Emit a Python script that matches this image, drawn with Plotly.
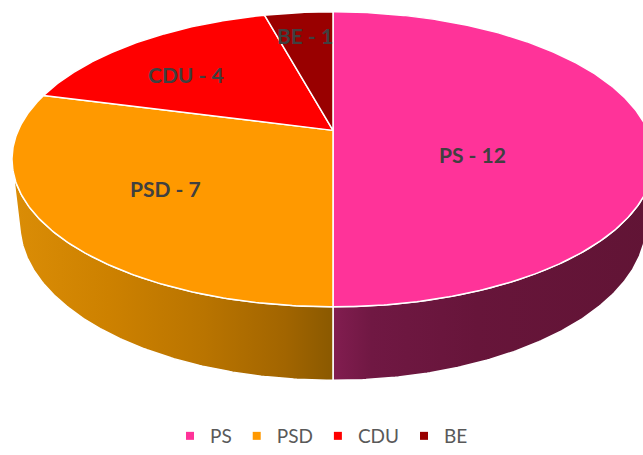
import numpy as np
import plotly.graph_objects as go

# ---- data ----
parties = ["PS", "PSD", "CDU", "BE"]
seats = [12, 7, 4, 1]
colors = ["#FF3399", "#FF9900", "#FF0000", "#990000"]

# side-wall gradients (left -> right)
wall_scales = {
    "PS": [[0, "#821d50"], [0.12, "#701843"], [0.45, "#67153a"], [1, "#611435"]],
    "PSD": [[0, "#db8d06"], [0.3, "#cd8100"], [0.6, "#b97400"], [0.85, "#a26500"], [1, "#8a5900"]],
    "CDU": [[0, "#b00000"], [1, "#800000"]],
    "BE": [[0, "#6a0000"], [1, "#500000"]],
}

# ---- perspective camera (pixel space) ----
W, H = 643, 455
CX, CY = 333.0, 133.0
PHI = np.arcsin(0.4597)
C, S = np.cos(PHI), np.sin(PHI)
D = 4.530
F = 1426.0
T = 0.2378  # thickness


def proj(X, Y, Z):
    X, Y, Z = np.asarray(X, float), np.asarray(Y, float), np.asarray(Z, float)
    depth = Y * C - Z * S + D
    w = Y * S + Z * C
    return CX + F * X / depth, CY - F * w / depth


def arc(a0, a1, r=1.0, z=0.0, n=None):
    if n is None:
        n = max(int(abs(a1 - a0) * 2) + 2, 3)
    th = np.radians(np.linspace(a0, a1, n))
    X = r * np.sin(th)
    Y = r * np.cos(th)
    return proj(X, Y, np.full_like(X, z))


total = sum(seats)
bounds = np.concatenate([[0], np.cumsum(seats)]) / total * 360.0

# silhouette of the cylinder
theta_sil = np.degrees(np.arccos(-1.0 / (D * C)))
vis_lo, vis_hi = theta_sil, 360 - theta_sil

fig = go.Figure()

# side walls
for i, p in enumerate(parties):
    a0, a1 = bounds[i], bounds[i + 1]
    lo, hi = max(a0, vis_lo), min(a1, vis_hi)
    if hi <= lo:
        continue
    xt, yt = arc(lo, hi, z=0.0)
    xb, yb = arc(hi, lo, z=-T)
    xs = np.concatenate([xt, xb, xt[:1]])
    ys = np.concatenate([yt, yb, yt[:1]])
    fig.add_trace(go.Scatter(
        x=xs, y=ys, mode="lines", fill="toself",
        fillgradient=dict(type="horizontal", colorscale=wall_scales[p]),
        line=dict(color="white", width=1.5),
        hoverinfo="skip", showlegend=False))

# top faces
cx0, cy0 = proj(0, 0, 0)
for i, p in enumerate(parties):
    a0, a1 = bounds[i], bounds[i + 1]
    xa, ya = arc(a0, a1)
    xs = np.concatenate([[cx0], xa, [cx0]])
    ys = np.concatenate([[cy0], ya, [cy0]])
    fig.add_trace(go.Scatter(
        x=xs, y=ys, mode="lines", fill="toself", fillcolor=colors[i],
        line=dict(color="white", width=1.5),
        hoverinfo="skip", showlegend=False))

# data labels
label_r = [0.46, 0.62, 0.66, 0.78]
label_shift = [21, 0, -5, 0]
for i, p in enumerate(parties):
    mid = (bounds[i] + bounds[i + 1]) / 2 + label_shift[i]
    th = np.radians(mid)
    lx, ly = proj(label_r[i] * np.sin(th), label_r[i] * np.cos(th), 0.0)
    fig.add_annotation(
        x=float(lx), y=float(ly), xref="x", yref="y",
        text=f"<b>{p} - {seats[i]}</b>", showarrow=False,
        font=dict(family="Lato, Open Sans, sans-serif", size=21, color="#404040"))

# legend entries
for i, p in enumerate(parties):
    fig.add_trace(go.Scatter(
        x=[None], y=[None], mode="markers", name=p,
        marker=dict(symbol="square", size=8, color=colors[i])))

fig.update_layout(
    width=W, height=H, autosize=False,
    margin=dict(l=0, r=0, t=0, b=0),
    paper_bgcolor="white", plot_bgcolor="white",
    xaxis=dict(range=[0, W], visible=False, fixedrange=True),
    yaxis=dict(range=[H, 0], visible=False, fixedrange=True),
    showlegend=True,
    legend=dict(orientation="h", x=0.5, xanchor="center", y=0.022, yanchor="middle",
                font=dict(family="Lato, Open Sans, sans-serif", size=19, color="#595959"),
                itemwidth=30, bgcolor="rgba(0,0,0,0)"),
)

fig.write_html("out.html", config={"displayModeBar": False},
               post_script="document.body.style.margin='0';document.body.style.overflow='hidden';")
